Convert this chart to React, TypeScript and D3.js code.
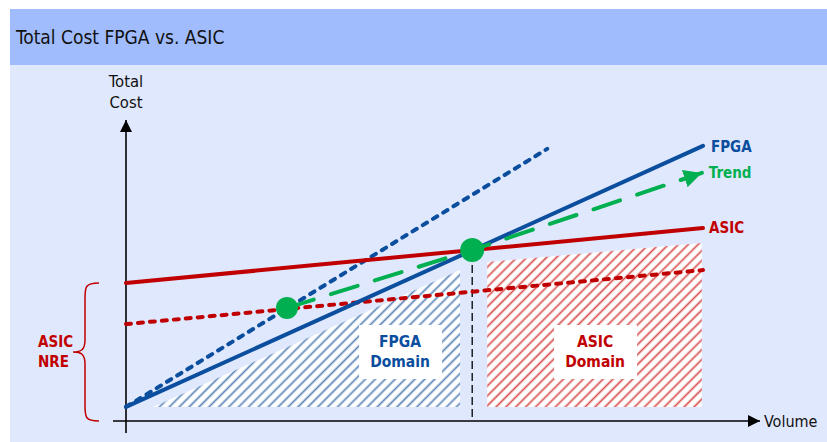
import React from 'react';
import * as d3 from 'd3';

const W = 827;
const H = 442;

const titleText = 'Total Cost FPGA vs. ASIC';
const yAxisLabel = ['Total', 'Cost'];
const xAxisLabel = 'Volume';
const nreLabel = ['ASIC', 'NRE'];

// data in abstract units (volume 0-100, cost 0-100)
const fpgaLine: [number, number][] = [[0, 4.7], [100, 91.7]];
const fpgaLowVolume: [number, number][] = [[0, 4.7], [73, 90.7]];
const asicLine: [number, number][] = [[0, 46], [100, 64.3]];
const asicLowVolume: [number, number][] = [[0, 32.3], [100, 50.3]];
const trendLine: [number, number][] = [[27.9, 37.7], [60, 57], [99.8, 82.7]];
const breakEvenPoints: [number, number][] = [[27.9, 37.7], [60, 57]];
const breakEvenVolume = 60;
const fpgaDomain: [number, number][] = [[4.7, 4.7], [57.9, 50.3], [57.9, 4.7]];
const asicDomain: [number, number][] = [[62.6, 4.7], [62.6, 53], [99.8, 59.3], [99.8, 4.7]];
const nreRange = [0, 46];
const lineLabels = ['FPGA', 'Trend', 'ASIC'];
const domainLabels = [['FPGA', 'Domain'], ['ASIC', 'Domain']];
const domainLabelCenters: [number, number][] = [[47.5, 23], [81.3, 23]];

const BLUE = '#0B4E9E';
const RED = '#C00000';
const GREEN = '#00B050';
const FONT = '"DejaVu Sans Condensed", "DejaVu Sans", sans-serif';

export default function App() {
  const x = d3.scaleLinear().domain([0, 100]).range([126, 703]);
  const y = d3.scaleLinear().domain([0, 100]).range([421, 121]);
  const line = d3.line<[number, number]>().x(d => x(d[0])).y(d => y(d[1]));
  const poly = (pts: [number, number][]) => line(pts) + 'Z';

  const x0 = x(0);
  const y0 = y(0);

  // brace
  const bTop = y(nreRange[1]);
  const bBot = y(nreRange[0]);
  const bMid = (bTop + bBot) / 2;
  const bx = 99, bv = 85, bt = 73;
  const brace = `M${bx},${bTop} C${bv},${bTop} ${bv},${bTop + 4} ${bv},${bTop + 16} L${bv},${bMid - 12} C${bv},${bMid - 2} ${bv - 4},${bMid} ${bt},${bMid} C${bv - 4},${bMid} ${bv},${bMid + 2} ${bv},${bMid + 12} L${bv},${bBot - 16} C${bv},${bBot - 4} ${bv},${bBot} ${bx},${bBot}`;

  const fEnd = fpgaLine[fpgaLine.length - 1];
  const aEnd = asicLine[asicLine.length - 1];
  const tEnd = trendLine[trendLine.length - 1];

  return (
    <svg width={W} height={H} style={{ position: 'absolute', left: 0, top: 0 }} fontFamily={FONT}>
      <defs>
        <pattern id="hatchBlue" width="7" height="7" patternUnits="userSpaceOnUse" patternTransform="rotate(45)">
          <rect width="7" height="7" fill="#ffffff" />
          <line x1="1.5" y1="0" x2="1.5" y2="7" stroke="#5A84B8" strokeWidth="1.7" />
        </pattern>
        <pattern id="hatchRed" width="7" height="7" patternUnits="userSpaceOnUse" patternTransform="rotate(45)">
          <rect width="7" height="7" fill="#ffffff" />
          <line x1="1.5" y1="0" x2="1.5" y2="7" stroke="#D85050" strokeWidth="1.7" />
        </pattern>
        <marker id="arrowGreen" viewBox="0 0 10 10" refX="10" refY="5" markerWidth="18" markerHeight="18" markerUnits="userSpaceOnUse" orient="auto">
          <path d="M0,0 L10,5 L0,10 Z" fill={GREEN} />
        </marker>
        <marker id="arrowBlack" viewBox="0 0 10 10" refX="10" refY="5" markerWidth="12" markerHeight="12" markerUnits="userSpaceOnUse" orient="auto">
          <path d="M0,0 L10,5 L0,10 Z" fill="#000" />
        </marker>
      </defs>

      <rect x={10} y={9} width={W - 10} height={H - 9} fill="#E0E8FD" />
      <rect x={10} y={9} width={W - 10} height={56} fill="#A0BCFC" />
      <text x={16} y={44} fontSize={19} fill="#111">{titleText}</text>

      {/* domains */}
      <path d={poly(fpgaDomain)} fill="url(#hatchBlue)" />
      <path d={poly(asicDomain)} fill="url(#hatchRed)" />

      {/* axes */}
      <line x1={x0} y1={433} x2={x0} y2={120} stroke="#000" strokeWidth={1.6} markerEnd="url(#arrowBlack)" />
      <line x1={113} y1={y0} x2={760} y2={y0} stroke="#000" strokeWidth={1.6} markerEnd="url(#arrowBlack)" />
      <text textAnchor="middle" fontSize={16.5} fill="#111">
        <tspan x={x0} y={87}>{yAxisLabel[0]}</tspan>
        <tspan x={x0} y={108}>{yAxisLabel[1]}</tspan>
      </text>
      <text x={764} y={427} fontSize={16} fill="#111">{xAxisLabel}</text>

      {/* break-even vertical */}
      <line x1={x(breakEvenVolume)} x2={x(breakEvenVolume)} y1={y(breakEvenPoints[1][1]) + 15} y2={y0} stroke="#000" strokeWidth={1.3} strokeDasharray="8 4" />

      {/* domain labels */}
      {domainLabels.map((lbl, i) => {
        const cx = x(domainLabelCenters[i][0]);
        const cy = y(domainLabelCenters[i][1]);
        const col = i === 0 ? BLUE : RED;
        return (
          <g key={i}>
            <rect x={cx - 41} y={cy - 27} width={83} height={54} fill="#ffffff" />
            <text textAnchor="middle" fontSize={15.5} fontWeight="bold" fill={col}>
              <tspan x={cx} y={cy - 5}>{lbl[0]}</tspan>
              <tspan x={cx} y={cy + 15}>{lbl[1]}</tspan>
            </text>
          </g>
        );
      })}

      {/* lines */}
      <path d={line(asicLowVolume)!} fill="none" stroke={RED} strokeWidth={4} strokeDasharray="5 7" strokeLinecap="round" />
      <path d={line(fpgaLowVolume)!} fill="none" stroke={BLUE} strokeWidth={4} strokeDasharray="5 7" strokeLinecap="round" />
      <path d={line(asicLine)!} fill="none" stroke={RED} strokeWidth={4} strokeLinecap="round" />
      <path d={line(fpgaLine)!} fill="none" stroke={BLUE} strokeWidth={4} strokeLinecap="round" />
      <path d={line(trendLine)!} fill="none" stroke={GREEN} strokeWidth={4} strokeDasharray="28 18" strokeLinecap="round" markerEnd="url(#arrowGreen)" />
      {breakEvenPoints.map((p, i) => (
        <circle key={i} cx={x(p[0])} cy={y(p[1])} r={i === 0 ? 11 : 12} fill={GREEN} />
      ))}

      {/* line labels */}
      <text x={x(fEnd[0]) + 8} y={y(fEnd[1]) + 6} fontSize={15} fontWeight="bold" fill={BLUE}>{lineLabels[0]}</text>
      <text x={x(tEnd[0]) + 7} y={y(tEnd[1]) + 5} fontSize={15} fontWeight="bold" fill={GREEN}>{lineLabels[1]}</text>
      <text x={x(aEnd[0]) + 6} y={y(aEnd[1]) + 5} fontSize={15} fontWeight="bold" fill={RED}>{lineLabels[2]}</text>

      {/* NRE brace */}
      <path d={brace} fill="none" stroke={RED} strokeWidth={1.5} />
      <text fontSize={15} fontWeight="bold" fill={RED}>
        <tspan x={38} y={347}>{nreLabel[0]}</tspan>
        <tspan x={38} y={367}>{nreLabel[1]}</tspan>
      </text>
    </svg>
  );
}
